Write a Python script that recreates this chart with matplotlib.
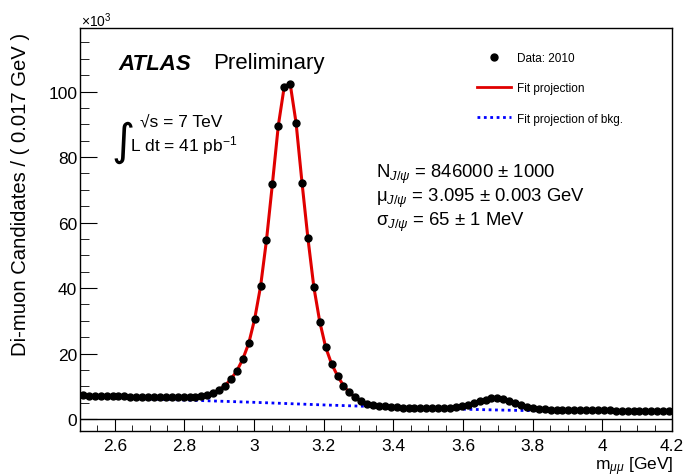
import numpy as np
import matplotlib
matplotlib.use("Agg")
import matplotlib.pyplot as plt
from matplotlib.lines import Line2D
from matplotlib.ticker import MultipleLocator, FormatStrFormatter

plt.rcParams['font.family'] = ['Liberation Sans', 'DejaVu Sans']
plt.rcParams['mathtext.fontset'] = 'custom'
plt.rcParams['mathtext.rm'] = 'Liberation Sans'
plt.rcParams['mathtext.it'] = 'Liberation Sans:italic'
plt.rcParams['mathtext.sf'] = 'Liberation Sans'

# di-muon mass spectrum, 0.017 GeV bins starting at 2.5 GeV (counts in units of 10^3)
bin_width = 0.017
counts = [
    7.2, 7.15, 7.1, 7.05, 7.0, 6.95, 6.9, 6.9, 6.85, 6.8,
    6.8, 6.75, 6.7, 6.7, 6.65, 6.6, 6.6, 6.6, 6.65, 6.75,
    6.95, 7.3, 7.9, 9.0, 10.2, 12.2, 14.7, 18.3, 23.1, 30.5,
    40.5, 54.6, 71.8, 89.6, 101.5, 102.4, 90.4, 72.2, 55.2, 40.3,
    29.7, 21.9, 16.8, 13.2, 10.2, 8.1, 6.6, 5.4, 4.7, 4.3,
    4.05, 3.85, 3.7, 3.6, 3.5, 3.4, 3.35, 3.3, 3.3, 3.3,
    3.3, 3.35, 3.45, 3.6, 3.9, 4.3, 4.8, 5.4, 5.9, 6.3,
    6.3, 6.0, 5.5, 4.9, 4.3, 3.8, 3.4, 3.1, 2.95, 2.85,
    2.8, 2.75, 2.75, 2.7, 2.7, 2.65, 2.65, 2.6, 2.6, 2.6,
    2.55, 2.55, 2.5, 2.5, 2.5, 2.45, 2.45, 2.45, 2.4, 2.4,
]
mass = 2.5 + bin_width / 2 + bin_width * np.arange(len(counts))

# background component of the fit
bkg_mass = [2.5, 2.6, 2.7, 2.8, 2.9, 3.0, 3.1, 3.2, 3.3, 3.4, 3.5, 3.6, 3.7, 3.8, 3.9, 4.0, 4.1, 4.2]
bkg = [6.9, 6.5, 6.15, 5.8, 5.45, 5.1, 4.7, 4.3, 3.95, 3.6, 3.3, 3.0, 2.75, 2.55, 2.4, 2.3, 2.2, 2.1]

W, H = 689, 477
fig = plt.figure(figsize=(W / 100, H / 100), dpi=100)
ax = fig.add_axes([80 / W, 1 - 432 / H, 592 / W, 403 / H])


def fx(px):
    return px / W


def fy(py):
    return 1 - py / H


bkg_style = (0, (1, 1.3))

ax.errorbar(mass, counts, xerr=bin_width / 2, fmt='none', ecolor='black', elinewidth=1.2, zorder=2)
ax.plot(mass, counts, 'o', color='black', markersize=5, zorder=4)
ax.plot(mass, counts, color='#e00000', lw=2.2, zorder=3)
ax.plot(bkg_mass, bkg, color='#0000ff', lw=2, ls=bkg_style, zorder=3)
ax.axhline(0, color='black', lw=1, zorder=1)

ax.set_xlim(2.5, 4.2)
ax.set_ylim(-3.66, 119.4)
ax.xaxis.set_major_locator(MultipleLocator(0.2))
ax.xaxis.set_minor_locator(MultipleLocator(0.05))
ax.xaxis.set_major_formatter(FormatStrFormatter('%g'))
ax.yaxis.set_major_locator(MultipleLocator(20))
ax.yaxis.set_minor_locator(MultipleLocator(5))
ax.tick_params(which='both', direction='in', top=False, right=False, labelsize=12.5)
ax.tick_params(axis='x', which='major', length=8.5, pad=5)
ax.tick_params(axis='x', which='minor', length=4.5)
ax.tick_params(axis='y', which='major', length=12, pad=2)
ax.tick_params(axis='y', which='minor', length=6.5)
for s in ax.spines.values():
    s.set_linewidth(1.0)

fig.text(fx(81), fy(21), r'$\times10^{3}$', fontsize=10, ha='left', va='center')
fig.text(fx(21), fy(33), 'Di-muon Candidates / ( 0.017 GeV )', rotation=90,
         fontsize=14.6, ha='center', va='top')
fig.text(fx(673), fy(455), r'm$_{\mu\mu}$ [GeV]', fontsize=12.5, ha='right', va='top')

fig.text(fx(118), fy(64), 'ATLAS', fontsize=16, fontweight='bold', style='italic', ha='left', va='center')
fig.text(fx(213), fy(64), 'Preliminary', fontsize=16, ha='left', va='center')

fig.text(fx(111), fy(142), '\u222b', fontsize=32, family='DejaVu Sans', ha='left', va='center')
fig.text(fx(140), fy(122), '\u221as = 7 TeV', fontsize=12.5, ha='left', va='center')
fig.text(fx(130), fy(146), r'L dt = 41 pb$^{-1}$', fontsize=12.5, ha='left', va='center')

fig.text(fx(376), fy(174), r'N$_{J/\psi}$ = 846000 $\pm$ 1000', fontsize=13.3, ha='left', va='center')
fig.text(fx(376), fy(198), '\u03bc' + r'$_{J/\psi}$ = 3.095 $\pm$ 0.003 GeV', fontsize=13.3, ha='left', va='center')
fig.text(fx(376), fy(222), '\u03c3' + r'$_{J/\psi}$ = 65 $\pm$ 1 MeV', fontsize=13.3, ha='left', va='center')

handles = [
    Line2D([], [], marker='o', ls='none', color='black', markersize=5),
    Line2D([], [], color='#e00000', lw=2),
    Line2D([], [], color='#0000ff', lw=2, ls=bkg_style),
]
labels = ['Data: 2010', 'Fit projection', 'Fit projection of bkg.']
fig.legend(handles, labels, loc='upper left', bbox_to_anchor=(fx(477), fy(53)),
           frameon=False, fontsize=8.5, handlelength=2.9, handletextpad=0.5,
           labelspacing=1.55, borderpad=0, borderaxespad=0)

fig.savefig('out.png', dpi=100)
